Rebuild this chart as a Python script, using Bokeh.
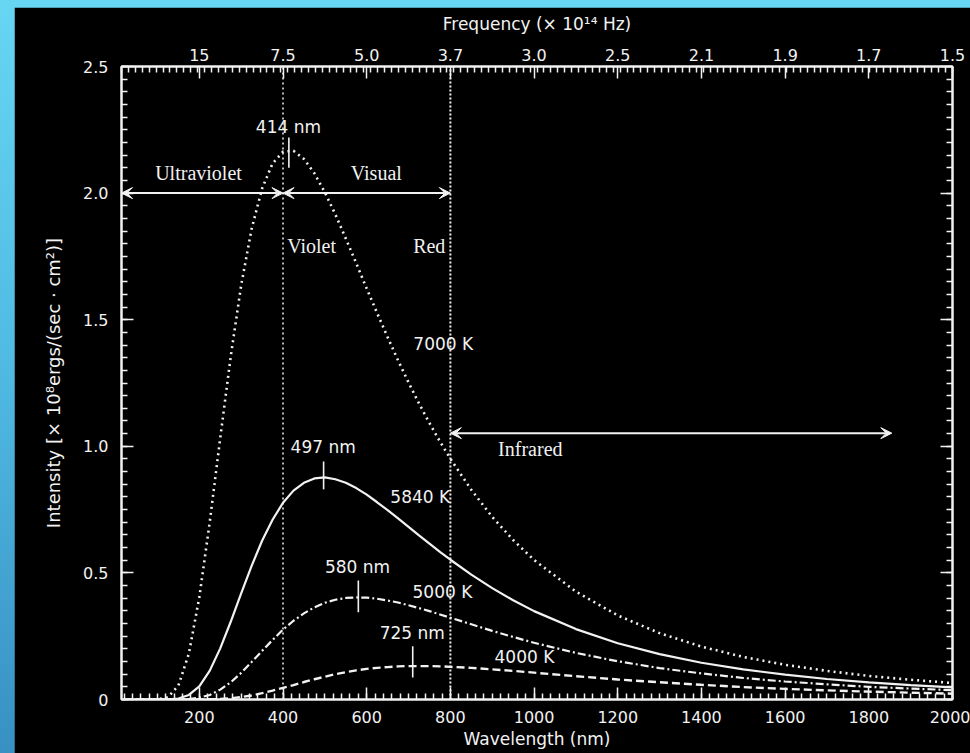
from bokeh.plotting import figure
from bokeh.models import (LinearAxis, FixedTicker, Range1d, Arrow, VeeHead,
                          GlobalInlineStyleSheet)
from bokeh.core.properties import value
from bokeh.embed import file_html
from bokeh.resources import INLINE

# ---------------- data ----------------
wavelength_nm = [20, 100, 125, 150, 175, 200, 225, 250, 275, 300, 325, 350, 375, 400,
                 425, 450, 475, 500, 525, 550, 575, 600, 625, 650, 675, 700, 725, 750,
                 775, 800, 850, 900, 950, 1000, 1100, 1200, 1300, 1400, 1500, 1600,
                 1700, 1800, 1900, 2000]
intensity_7000K = [0, 0.0005, 0.009, 0.055, 0.181, 0.404, 0.702, 1.033, 1.354, 1.636,
                   1.859, 2.018, 2.117, 2.164,
                   2.167, 2.135, 2.078, 2.003, 1.916, 1.821, 1.723, 1.623, 1.526, 1.431,
                   1.339, 1.252, 1.169, 1.092, 1.019, 0.951,
                   0.828, 0.721, 0.630, 0.551,
                   0.426, 0.332, 0.262, 0.209, 0.168, 0.137, 0.113, 0.093, 0.078, 0.065]
intensity_5840K = [0, 0, 0.0003, 0.004, 0.018, 0.052, 0.114, 0.202, 0.307, 0.419,
                   0.528, 0.627, 0.710, 0.777,
                   0.825, 0.856, 0.873, 0.877, 0.870, 0.856, 0.835, 0.809, 0.779, 0.748,
                   0.715, 0.682, 0.648, 0.616, 0.583, 0.552,
                   0.493, 0.440, 0.392, 0.349,
                   0.278, 0.222, 0.179, 0.145, 0.119, 0.098, 0.081, 0.068, 0.057, 0.048]
intensity_5000K = [0, 0, 0, 0.0002, 0.002, 0.007, 0.018, 0.039, 0.068, 0.105,
                   0.148, 0.192, 0.235, 0.276,
                   0.311, 0.340, 0.364, 0.382, 0.394, 0.401, 0.403, 0.402, 0.398, 0.391,
                   0.383, 0.372, 0.361, 0.349, 0.336, 0.323,
                   0.297, 0.271, 0.247, 0.224,
                   0.184, 0.151, 0.124, 0.103, 0.085, 0.071, 0.060, 0.050, 0.043, 0.037]
intensity_4000K = [0, 0, 0, 0, 0, 0.0002, 0.0007, 0.002, 0.005, 0.010,
                   0.016, 0.025, 0.035, 0.046,
                   0.057, 0.069, 0.080, 0.090, 0.100, 0.108, 0.115, 0.121, 0.125, 0.128,
                   0.131, 0.132, 0.132, 0.132, 0.131, 0.129,
                   0.125, 0.119, 0.113, 0.106,
                   0.092, 0.079, 0.068, 0.058, 0.049, 0.042, 0.036, 0.031, 0.027, 0.023]

wl_ticks = [200, 400, 600, 800, 1000, 1200, 1400, 1600, 1800, 2000]
freq_tick_labels = ["15", "7.5", "5.0", "3.7", "3.0", "2.5", "2.1", "1.9", "1.7", "1.5"]
y_ticks = [0, 0.5, 1.0, 1.5, 2.0, 2.5]
y_tick_labels = ["0", "0.5", "1.0", "1.5", "2.0", "2.5"]

region_bounds_nm = [400, 800]

peak_wl = [414, 497, 580, 710]
peak_text = ["414 nm", "497 nm", "580 nm", "725 nm"]
peak_tick_lo = [2.10, 0.83, 0.345, 0.087]
peak_tick_hi = [2.22, 0.94, 0.47, 0.21]
peak_text_x = [413, 496, 578, 709]
peak_text_y = [2.263, 0.999, 0.525, 0.261]

temp_text = ["7000 K", "5840 K", "5000 K", "4000 K"]
temp_text_x = [783, 728, 781, 977]
temp_text_y = [1.406, 0.798, 0.423, 0.166]

band_text = ["Ultraviolet", "Visual", "Infrared"]
band_text_x = [198, 623, 991]
band_text_y = [2.081, 2.081, 0.991]

edge_text = ["Violet", "Red"]
edge_text_x = [410, 788]
edge_text_y = [1.793, 1.793]

arrow_x0 = [14, 400, 800]
arrow_x1 = [400, 800, 1855]
arrow_y = [2.0, 2.0, 1.052]

# ---------------- figure ----------------
WHITE = "#f2f2f2"
SANS = "DejaVu Sans"
SERIF = "Liberation Serif"

p = figure(width=956, height=746, output_backend="svg", toolbar_location=None,
           x_range=Range1d(14, 2000), y_range=Range1d(0, 2.5),
           background_fill_color="black", border_fill_color="black",
           min_border_left=107, min_border_right=18, min_border_top=59,
           min_border_bottom=54, x_axis_location=None, y_axis_location=None)
p.outline_line_color = WHITE
p.outline_line_width = 2
p.xgrid.visible = False
p.ygrid.visible = False

p.stylesheets = [GlobalInlineStyleSheet(css=(
    "html{overflow:hidden;background:linear-gradient(to bottom,#66d6f3 0%,#4fb9e2 50%,#3890c3 100%);}"
    "body{margin:7px 0 0 14px !important;overflow:hidden;background:transparent;}"))]


def style_axis(ax, label_size="16px"):
    ax.axis_line_color = WHITE
    ax.axis_line_width = 2
    ax.major_tick_line_color = WHITE
    ax.major_tick_line_width = 1.5
    ax.minor_tick_line_color = WHITE
    ax.minor_tick_line_width = 1.5
    ax.major_tick_in = 12
    ax.major_tick_out = 0
    ax.minor_tick_in = 6
    ax.minor_tick_out = 0
    ax.major_label_text_color = WHITE
    ax.major_label_text_font = SANS
    ax.major_label_text_font_size = label_size
    ax.axis_label_text_color = WHITE
    ax.axis_label_text_font = SANS
    ax.axis_label_text_font_size = "17px"
    ax.axis_label_text_font_style = "normal"


bottom = LinearAxis(ticker=FixedTicker(ticks=wl_ticks, minor_ticks=list(range(20, 2001, 20))),
                    axis_label="Wavelength (nm)")
style_axis(bottom)
bottom.major_label_standoff = 11
bottom.axis_label_standoff = 3
p.add_layout(bottom, "below")

top = LinearAxis(ticker=FixedTicker(ticks=wl_ticks,
                                    minor_ticks=[14 + i * (2000 - 14) / 120 for i in range(121)]),
                 axis_label="Frequency (× 10¹⁴ Hz)",
                 major_label_overrides={t: s for t, s in zip(wl_ticks, freq_tick_labels)})
style_axis(top)
top.major_label_standoff = 6
top.axis_label_standoff = 12
p.add_layout(top, "above")

y_minor = [round(i * 0.05, 2) for i in range(51)]
left = LinearAxis(ticker=FixedTicker(ticks=y_ticks, minor_ticks=y_minor),
                  axis_label="Intensity [× 10⁸ergs/(sec · cm²)]",
                  major_label_overrides={t: s for t, s in zip(y_ticks, y_tick_labels)})
style_axis(left)
left.major_label_standoff = 13
left.axis_label_standoff = 16
left.axis_label_text_font_size = "18px"
p.add_layout(left, "left")

right = LinearAxis(ticker=FixedTicker(ticks=y_ticks, minor_ticks=y_minor),
                   major_label_overrides={t: "" for t in y_ticks})
style_axis(right, label_size="0px")
right.major_label_standoff = 0
p.add_layout(right, "right")

# region boundary lines
p.segment(x0=[region_bounds_nm[0]], y0=[0], x1=[region_bounds_nm[0]], y1=[2.5],
          line_color=WHITE, line_width=1.5, line_dash="2 3")
p.segment(x0=[region_bounds_nm[1]], y0=[0], x1=[region_bounds_nm[1]], y1=[2.5],
          line_color=WHITE, line_width=2, line_dash="2 2")

# curves
p.line(wavelength_nm, intensity_7000K, line_color=WHITE, line_width=2.6, line_dash="2 4")
p.line(wavelength_nm, intensity_5840K, line_color=WHITE, line_width=2.2)
p.line(wavelength_nm, intensity_5000K, line_color=WHITE, line_width=2.2, line_dash="8 3 2 3")
p.line(wavelength_nm, intensity_4000K, line_color=WHITE, line_width=2.4, line_dash="8 4")

# peak markers
p.segment(x0=peak_wl, y0=peak_tick_lo, x1=peak_wl, y1=peak_tick_hi,
          line_color=WHITE, line_width=1.6)

# arrows
for x0, x1, y in zip(arrow_x0, arrow_x1, arrow_y):
    p.add_layout(Arrow(x_start=x0, y_start=y, x_end=x1, y_end=y,
                       line_color=WHITE, line_width=2,
                       start=VeeHead(size=11, fill_color=WHITE, line_color=WHITE, line_width=1),
                       end=VeeHead(size=11, fill_color=WHITE, line_color=WHITE, line_width=1)))

# texts
p.text(x=peak_text_x, y=peak_text_y, text=peak_text, text_color=WHITE,
       text_font=value(SANS), text_font_size="17px", text_align="center",
       text_baseline="middle")
p.text(x=temp_text_x, y=temp_text_y, text=temp_text, text_color=WHITE,
       text_font=value(SANS), text_font_size="17px", text_align="center",
       text_baseline="middle")
p.text(x=band_text_x, y=band_text_y, text=band_text, text_color=WHITE,
       text_font=value(SERIF), text_font_size="20px", text_align="center",
       text_baseline="middle")
p.text(x=edge_text_x[:1], y=edge_text_y[:1], text=edge_text[:1], text_color=WHITE,
       text_font=value(SERIF), text_font_size="20px", text_align="left",
       text_baseline="middle")
p.text(x=edge_text_x[1:], y=edge_text_y[1:], text=edge_text[1:], text_color=WHITE,
       text_font=value(SERIF), text_font_size="20px", text_align="right",
       text_baseline="middle")

open("out.html", "w").write(file_html(p, INLINE))
